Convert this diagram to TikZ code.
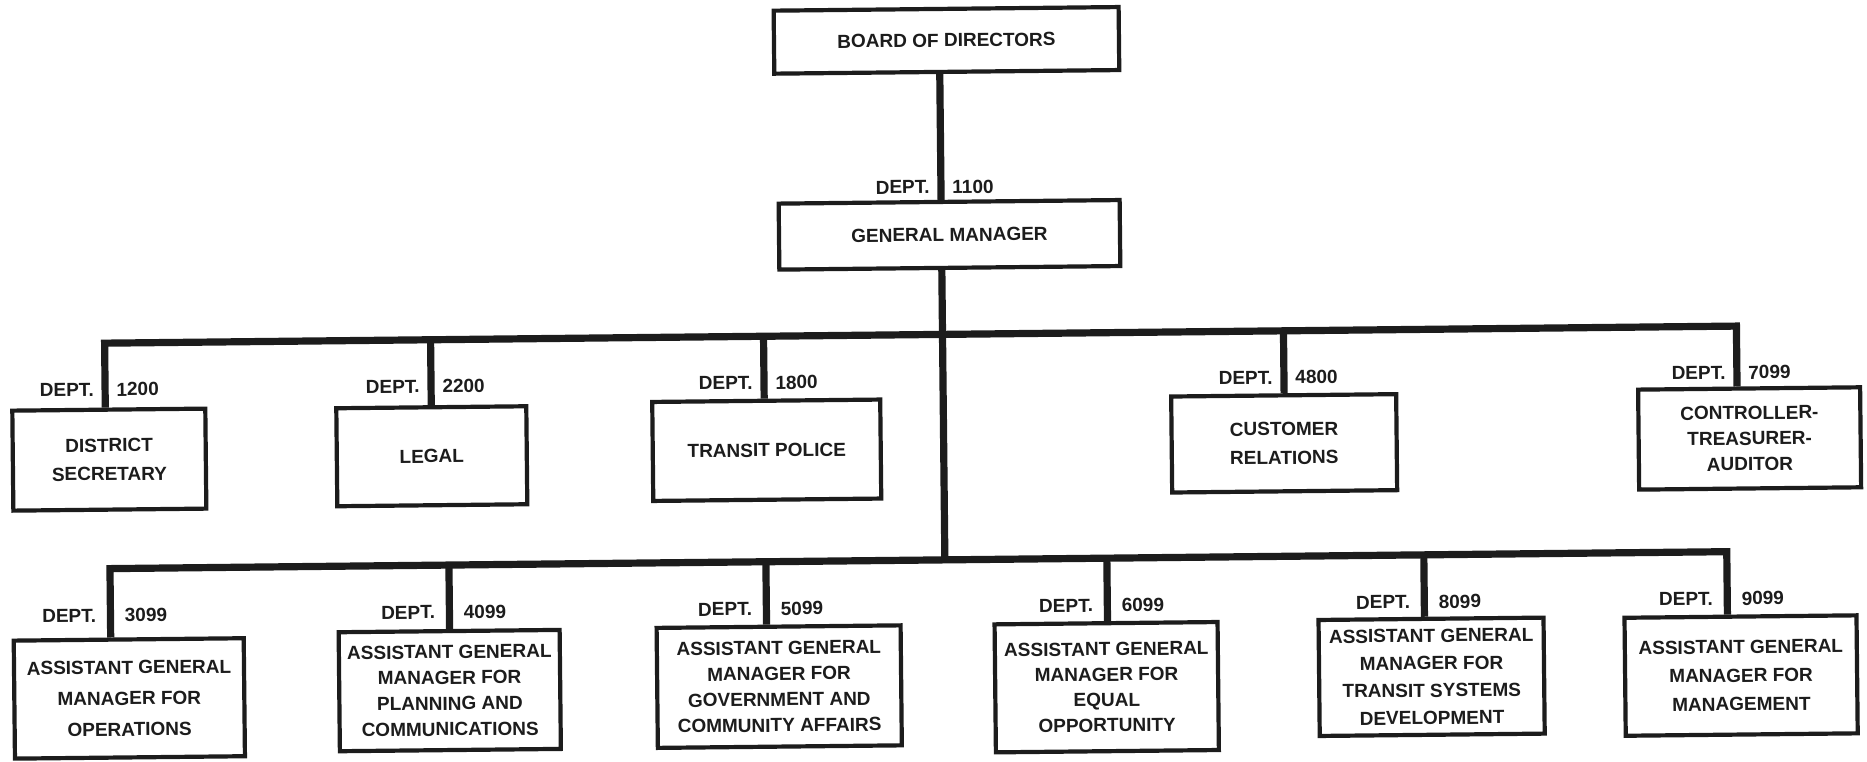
\documentclass[tikz,border=0pt]{standalone}
\usepackage{fontspec}
\setmainfont{Liberation Sans}
\definecolor{ink}{HTML}{1C1C1C}
\begin{document}
\begin{tikzpicture}[x=0.5pt,y=-0.5pt,
  box/.style={draw=ink, line width=2.1pt, fill=white, inner sep=0pt,
    align=center, text=ink, font=\bfseries\fontsize{9.5pt}{13pt}\selectfont},
  lsp/.style={font=\bfseries\fontsize{9.5pt}{#1}\selectfont},
  wh/.style 2 args={minimum width=#1*0.5pt, minimum height=#2*0.5pt},
  wire/.style={draw=ink, line width=3.6pt, line join=miter},
  dept/.style={text=ink, inner sep=0pt, font=\bfseries\fontsize{9.5pt}{11pt}\selectfont},
]
\useasboundingbox (0,0) rectangle (1867,761);
\begin{scope}[rotate around={0.6:(933,380)}, transform shape]

% top of the chart
\node[box, wh={345}{63}] (board) at (950,40.5) {BOARD OF DIRECTORS};
\node[box, wh={341}{66}] (gm) at (951,235) {GENERAL MANAGER};

% staff departments
\node[box, wh={193}{100}, lsp=14.3pt] (ds) at (108.5,451) {DISTRICT\\SECRETARY};
\node[box, wh={190}{98}] (legal) at (431,451) {LEGAL};
\node[box, wh={228}{99}] (tp) at (766,448.5) {TRANSIT POLICE};
\node[box, wh={225}{96}, lsp=14.3pt] (cr) at (1283.5,447) {CUSTOMER\\RELATIONS};
\node[box, wh={222}{100}, lsp=12.8pt] (ctl) at (1749,447) {CONTROLLER-\\TREASURER-\\AUDITOR};

% assistant general managers
\node[box, wh={230}{118}, lsp=15.5pt] (agm3) at (126,690) {ASSISTANT GENERAL\\MANAGER FOR\\OPERATIONS};
\node[box, wh={221}{119}, lsp=12.9pt] (agm4) at (446.5,685.5) {ASSISTANT GENERAL\\MANAGER FOR\\PLANNING AND\\COMMUNICATIONS};
\node[box, wh={244}{120}, lsp=12.9pt] (agm5) at (776,685) {ASSISTANT GENERAL\\MANAGER FOR\\GOVERNMENT AND\\COMMUNITY AFFAIRS};
\node[box, wh={223}{128}, lsp=12.7pt] (agm6) at (1103.5,689) {ASSISTANT GENERAL\\MANAGER FOR\\EQUAL\\OPPORTUNITY};
\node[box, wh={225}{116}, lsp=13.7pt] (agm8) at (1428.5,682) {ASSISTANT GENERAL\\MANAGER FOR\\TRANSIT SYSTEMS\\DEVELOPMENT};
\node[box, wh={232}{118}, lsp=14.3pt] (agm9) at (1738,684) {ASSISTANT GENERAL\\MANAGER FOR\\MANAGEMENT};

% trunk and bars
\coordinate (tk) at (943,0);
\coordinate (lb) at (943,560);
\coordinate (u1) at (105,334.5);
\coordinate (u2) at (431,334.5);
\coordinate (u3) at (764,334.5);
\coordinate (u4) at (1284,334.5);
\coordinate (u5) at (1737,334.5);
\coordinate (l1) at (108,560);
\coordinate (l2) at (447,560);
\coordinate (l3) at (764,560);
\coordinate (l4) at (1105,560);
\coordinate (l5) at (1422,560);
\coordinate (l6) at (1725,560);

\draw[wire] (board.south -| tk) -- (gm.north -| tk);
\draw[wire] (gm.south -| tk) -- (lb);

\draw[wire] (ds.north -| u1) -- (u1) -- (u5) -- (ctl.north -| u5);
\draw[wire] (u2) -- (legal.north -| u2);
\draw[wire] (u3) -- (tp.north -| u3);
\draw[wire] (u4) -- (cr.north -| u4);

\draw[wire] (agm3.north -| l1) -- (l1) -- (l6) -- (agm9.north -| l6);
\draw[wire] (l2) -- (agm4.north -| l2);
\draw[wire] (l3) -- (agm5.north -| l3);
\draw[wire] (l4) -- (agm6.north -| l4);
\draw[wire] (l5) -- (agm8.north -| l5);

% department numbers
\node[dept, anchor=east] (dgm) at (932,187) {DEPT.};
\node[dept, anchor=west] (ngm) at (954,187) {1100};

\node[dept, anchor=east] (dds) at (94,381) {DEPT.};
\node[dept, anchor=west] (nds) at (116,381) {1200};
\node[dept, anchor=east] (dlegal) at (420,381) {DEPT.};
\node[dept, anchor=west] (nlegal) at (442,381) {2200};
\node[dept, anchor=east] (dtp) at (753,381) {DEPT.};
\node[dept, anchor=west] (ntp) at (775,381) {1800};
\node[dept, anchor=east] (dcr) at (1273,381) {DEPT.};
\node[dept, anchor=west] (ncr) at (1295,381) {4800};
\node[dept, anchor=east] (dctl) at (1726,381) {DEPT.};
\node[dept, anchor=west] (nctl) at (1748,381) {7099};

\node[dept, anchor=east] (d3) at (94,607) {DEPT.};
\node[dept, anchor=west] (n3) at (122,607) {3099};
\node[dept, anchor=east] (d4) at (433,607) {DEPT.};
\node[dept, anchor=west] (n4) at (461,607) {4099};
\node[dept, anchor=east] (d5) at (750,607) {DEPT.};
\node[dept, anchor=west] (n5) at (778,607) {5099};
\node[dept, anchor=east] (d6) at (1091,607) {DEPT.};
\node[dept, anchor=west] (n6) at (1119,607) {6099};
\node[dept, anchor=east] (d8) at (1408,607) {DEPT.};
\node[dept, anchor=west] (n8) at (1436,607) {8099};
\node[dept, anchor=east] (d9) at (1711,607) {DEPT.};
\node[dept, anchor=west] (n9) at (1739,607) {9099};

\end{scope}
\end{tikzpicture}
\end{document}
